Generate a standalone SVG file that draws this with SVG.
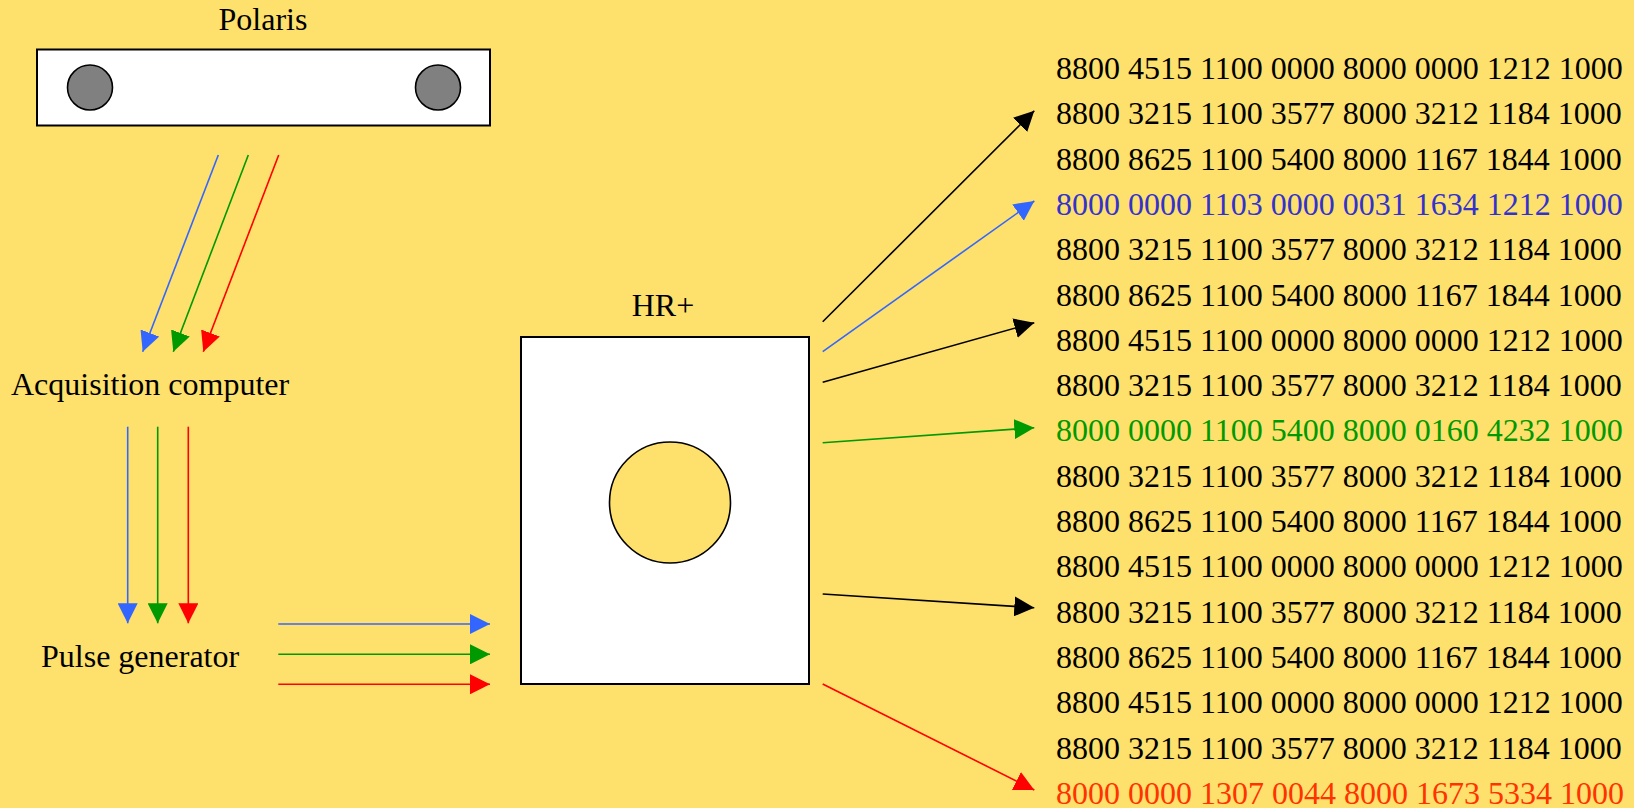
<svg xmlns="http://www.w3.org/2000/svg" width="1634" height="808" viewBox="0 0 1634 808">
<style>
text{font-family:"Liberation Serif","Times New Roman",serif;font-size:32px;fill:#000}
.box{fill:#fff;stroke:#000;stroke-width:2}
.lens{fill:#808080;stroke:#000;stroke-width:1.6}
.c{fill:none;stroke-width:1.6}
.k{stroke:#000}.b{stroke:#3366FF}.g{stroke:#009900}.r{stroke:#FF0000}
.tb{fill:#3333CC}.tg{fill:#009900}.tr{fill:#FF3300}
</style>
<defs>
<marker id="ak" markerUnits="userSpaceOnUse" markerWidth="20" markerHeight="20" refX="20" refY="10" orient="auto"><path d="M0,0L20,10L0,20z" fill="#000"/></marker>
<marker id="ab" markerUnits="userSpaceOnUse" markerWidth="20" markerHeight="20" refX="20" refY="10" orient="auto"><path d="M0,0L20,10L0,20z" fill="#3366FF"/></marker>
<marker id="ag" markerUnits="userSpaceOnUse" markerWidth="20" markerHeight="20" refX="20" refY="10" orient="auto"><path d="M0,0L20,10L0,20z" fill="#009900"/></marker>
<marker id="ar" markerUnits="userSpaceOnUse" markerWidth="20" markerHeight="20" refX="20" refY="10" orient="auto"><path d="M0,0L20,10L0,20z" fill="#FF0000"/></marker>
</defs>
<rect width="1634" height="808" fill="#FEE06C"/>
<g id="polaris">
<text x="263" y="30" text-anchor="middle">Polaris</text>
<rect class="box" x="37" y="49.5" width="453" height="76"/>
<circle class="lens" cx="90" cy="87.5" r="22.5"/>
<circle class="lens" cx="438" cy="87.5" r="22.5"/>
</g>
<g id="acquisition">
<text x="11" y="394.5">Acquisition computer</text>
</g>
<g id="pulse">
<text x="41" y="666.5">Pulse generator</text>
</g>
<g id="hr">
<text x="663" y="316" text-anchor="middle">HR+</text>
<rect class="box" x="521" y="337" width="288" height="347"/>
<circle cx="670" cy="502.5" r="60.5" fill="#FEE06C" stroke="#000" stroke-width="1.6"/>
</g>
<g id="data">
<text x="1056" y="79">8800 4515 1100 0000 8000 0000 1212 1000</text>
<text x="1056" y="124.3">8800 3215 1100 3577 8000 3212 1184 1000</text>
<text x="1056" y="169.6">8800 8625 1100 5400 8000 1167 1844 1000</text>
<text class="tb" x="1056" y="214.9">8000 0000 1103 0000 0031 1634 1212 1000</text>
<text x="1056" y="260.2">8800 3215 1100 3577 8000 3212 1184 1000</text>
<text x="1056" y="305.5">8800 8625 1100 5400 8000 1167 1844 1000</text>
<text x="1056" y="350.8">8800 4515 1100 0000 8000 0000 1212 1000</text>
<text x="1056" y="396.1">8800 3215 1100 3577 8000 3212 1184 1000</text>
<text class="tg" x="1056" y="441.4">8000 0000 1100 5400 8000 0160 4232 1000</text>
<text x="1056" y="486.7">8800 3215 1100 3577 8000 3212 1184 1000</text>
<text x="1056" y="532">8800 8625 1100 5400 8000 1167 1844 1000</text>
<text x="1056" y="577.3">8800 4515 1100 0000 8000 0000 1212 1000</text>
<text x="1056" y="622.6">8800 3215 1100 3577 8000 3212 1184 1000</text>
<text x="1056" y="667.9">8800 8625 1100 5400 8000 1167 1844 1000</text>
<text x="1056" y="713.2">8800 4515 1100 0000 8000 0000 1212 1000</text>
<text x="1056" y="758.5">8800 3215 1100 3577 8000 3212 1184 1000</text>
<text class="tr" x="1056" y="803.8">8000 0000 1307 0044 8000 1673 5334 1000</text>
</g>
<g id="connectors">
<line class="c b" x1="218.3" y1="155" x2="142.7" y2="351.7" marker-end="url(#ab)"/>
<line class="c g" x1="248.3" y1="155" x2="173.3" y2="351.7" marker-end="url(#ag)"/>
<line class="c r" x1="278.7" y1="155" x2="203.3" y2="351.7" marker-end="url(#ar)"/>
<line class="c b" x1="127.7" y1="426.7" x2="127.7" y2="623.3" marker-end="url(#ab)"/>
<line class="c g" x1="157.7" y1="426.7" x2="157.7" y2="623.3" marker-end="url(#ag)"/>
<line class="c r" x1="188.3" y1="426.7" x2="188.3" y2="623.3" marker-end="url(#ar)"/>
<line class="c b" x1="278.3" y1="624" x2="490" y2="624" marker-end="url(#ab)"/>
<line class="c g" x1="278.3" y1="654.3" x2="490" y2="654.3" marker-end="url(#ag)"/>
<line class="c r" x1="278.3" y1="684.3" x2="490" y2="684.3" marker-end="url(#ar)"/>
<line class="c k" x1="822.7" y1="321.7" x2="1034.3" y2="110.7" marker-end="url(#ak)"/>
<line class="c b" x1="822.7" y1="351.7" x2="1034.3" y2="201" marker-end="url(#ab)"/>
<line class="c k" x1="822.7" y1="382.3" x2="1034.3" y2="322.7" marker-end="url(#ak)"/>
<line class="c g" x1="822.7" y1="442.7" x2="1034.3" y2="427.7" marker-end="url(#ag)"/>
<line class="c k" x1="822.7" y1="594" x2="1034.3" y2="607.7" marker-end="url(#ak)"/>
<line class="c r" x1="822.7" y1="684" x2="1034.3" y2="790" marker-end="url(#ar)"/>
</g>
</svg>
